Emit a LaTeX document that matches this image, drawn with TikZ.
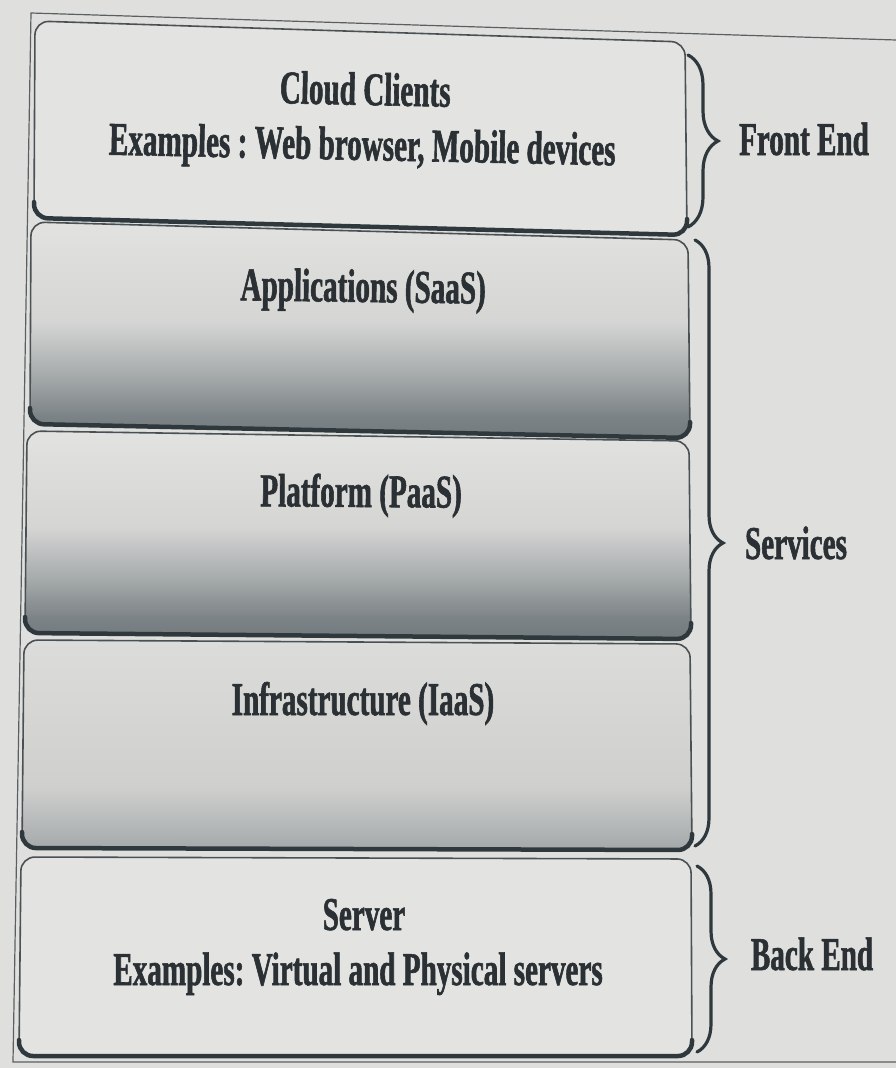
\documentclass[tikz,border=0pt]{standalone}
\usepackage{fontspec}
\newfontfamily\layerfont{Liberation Serif}[FakeStretch=0.62, FakeBold=1.2]
\usetikzlibrary{decorations.pathreplacing,calc}

\definecolor{page}{HTML}{DFE0DE}
\definecolor{frameline}{HTML}{5A5F61}
\definecolor{edge}{HTML}{4A5154}
\definecolor{edgedark}{HTML}{2F393D}
\definecolor{ink}{HTML}{2A3033}
\definecolor{plainfill}{HTML}{E3E4E2}
% colours for the shaded service layers
\definecolor{sTop}{HTML}{E2E2E0}
\definecolor{sLight}{HTML}{D5D6D4}
\definecolor{sMid}{HTML}{A8ACAD}
\definecolor{sDeep}{HTML}{7C8386}
\definecolor{sBottom}{HTML}{727A7D}
\definecolor{iTop}{HTML}{DCDDDB}
\definecolor{iMid}{HTML}{CFD0CE}
\definecolor{iBottom}{HTML}{A3A8A9}

% 0bp = bottom of the shape, 25bp..75bp covers the shape
\pgfdeclareverticalshading{darklayer}{100bp}{color(0bp)=(sBottom); color(25bp)=(sBottom);
  color(30bp)=(sDeep); color(40bp)=(sMid); color(52bp)=(sLight); color(75bp)=(sTop); color(100bp)=(sTop)}
\pgfdeclareverticalshading{paleLayer}{100bp}{color(0bp)=(iBottom); color(25bp)=(iBottom);
  color(40bp)=(iMid); color(75bp)=(iTop); color(100bp)=(iTop)}

\tikzset{
  layer/.style={draw=edge, line width=1.6pt, rounded corners=14pt},
  baseedge/.style={draw=edgedark, line width=4.5pt, rounded corners=14pt, line cap=round},
  layertext/.style={text=ink, inner sep=0pt, anchor=base,
    font=\layerfont\bfseries\frenchspacing\fontsize{47}{50}\selectfont},
  curly/.style={decorate, decoration={brace, amplitude=#1}, draw=edgedark, line width=3.2pt, line cap=round},
}

\begin{document}
\begin{tikzpicture}[x=1pt, y=-1pt]
\useasboundingbox (0,0) rectangle (896,1068);
\fill[page] (0,0) rectangle (896,1068);

% outer frame of the figure
\coordinate (frtl) at (31,13);
\coordinate (frtr) at (896,40);
\coordinate (frbl) at (13,1062);
\coordinate (frbr) at (896,1062);
\draw[frameline, line width=1.2pt] (frtr) -- (frtl) -- (frbl) -- (frbr);

% layer outlines (corners)
\coordinate (atl) at (35,21);  \coordinate (atr) at (685,42);  \coordinate (abr) at (687,235);  \coordinate (abl) at (34,218);
\coordinate (btl) at (31,222); \coordinate (btr) at (688,240); \coordinate (bbr) at (690,438);  \coordinate (bbl) at (30,424);
\coordinate (ctl) at (27,431); \coordinate (ctr) at (689,441); \coordinate (cbr) at (691,639);  \coordinate (cbl) at (25,633);
\coordinate (dtl) at (24,640); \coordinate (dtr) at (690,644); \coordinate (dbr) at (692,850);  \coordinate (dbl) at (22,848);
\coordinate (etl) at (21,857); \coordinate (etr) at (691,859); \coordinate (ebr) at (692,1056); \coordinate (ebl) at (19,1056);

% client layer
\draw[layer, fill=plainfill] (atl) -- (atr) -- (abr) -- (abl) -- cycle;
% service layers
\draw[layer, shading=darklayer] (btl) -- (btr) -- (bbr) -- (bbl) -- cycle;
\draw[layer, shading=darklayer] (ctl) -- (ctr) -- (cbr) -- (cbl) -- cycle;
\draw[layer, shading=paleLayer] (dtl) -- (dtr) -- (dbr) -- (dbl) -- cycle;
% server layer
\draw[layer, fill=plainfill] (etl) -- (etr) -- (ebr) -- (ebl) -- cycle;

% heavy lower rims
\foreach \p in {a,b,c,d,e}{
  \draw[baseedge] ($(\p bl)+(0,-16)$) -- (\p bl) -- (\p br) -- ($(\p br)+(0,-16)$);
}

% layer captions
\node[layertext, rotate=-1.2] (clients) at (365,105) {Cloud Clients};
\node[layertext, rotate=-1.2] (clientex) at (362,160) {Examples : Web browser, Mobile devices};
\node[layertext, rotate=-0.8] (saas) at (363,302) {Applications (SaaS)};
\node[layertext, rotate=-0.4] (paas) at (361,507) {Platform (PaaS)};
\node[layertext] (iaas) at (363,715) {Infrastructure (IaaS)};
\node[layertext] (server) at (364,930) {Server};
\node[layertext] (serverex) at (358,985) {Examples: Virtual and Physical servers};

% grouping braces
\coordinate (fetop) at (688,55);  \coordinate (febot) at (688,227);
\coordinate (svtop) at (695,240); \coordinate (svbot) at (695,846);
\coordinate (betop) at (697,866); \coordinate (bebot) at (697,1052);
\draw[curly=30pt] (fetop) -- (febot);
\draw[curly=28pt] (svtop) -- (svbot);
\draw[curly=28pt] (betop) -- (bebot);

\node[layertext] (front) at (804,155) {Front End};
\node[layertext] (services) at (796,559) {Services};
\node[layertext] (back) at (812,970) {Back End};
\end{tikzpicture}
\end{document}
